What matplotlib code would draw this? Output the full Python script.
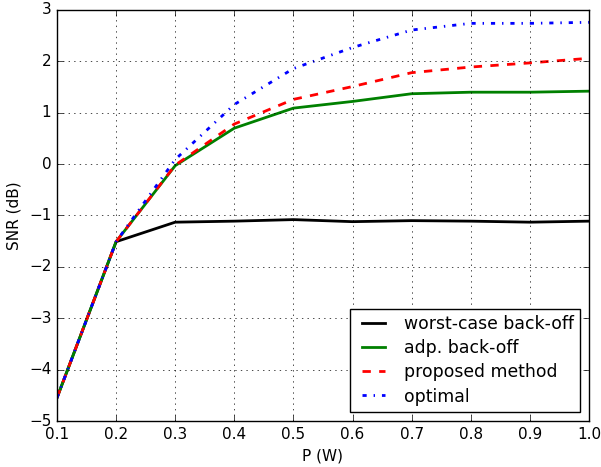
import matplotlib
matplotlib.use("Agg")
import matplotlib.pyplot as plt

plt.style.use('classic')

P = [0.1, 0.2, 0.3, 0.4, 0.5, 0.6, 0.7, 0.8, 0.9, 1.0]
worst = [-4.55, -1.51, -1.13, -1.11, -1.08, -1.12, -1.10, -1.11, -1.13, -1.11]
adp = [-4.55, -1.51, -0.03, 0.70, 1.09, 1.22, 1.37, 1.40, 1.40, 1.42]
proposed = [-4.55, -1.51, -0.02, 0.78, 1.26, 1.51, 1.78, 1.89, 1.97, 2.06]
optimal = [-4.55, -1.51, 0.09, 1.16, 1.86, 2.27, 2.61, 2.74, 2.74, 2.76]

fig = plt.figure(figsize=(6.01, 4.67), dpi=100, facecolor='white')
ax = fig.add_axes([0.0948, 0.0985, 0.8852, 0.8801])
ax.plot(P, worst, color='black', linestyle='-', linewidth=2, label='worst-case back-off')
ax.plot(P, adp, color='green', linestyle='-', linewidth=2, label='adp. back-off')
ax.plot(P, proposed, color='red', linestyle='--', linewidth=2, label='proposed method')
ax.plot(P, optimal, color='blue', linestyle='-.', linewidth=2, label='optimal')
ax.set_xlim(0.1, 1.0)
ax.set_ylim(-5, 3)
ax.set_xticks([0.1, 0.2, 0.3, 0.4, 0.5, 0.6, 0.7, 0.8, 0.9, 1.0])
ax.set_yticks(range(-5, 4))
ax.grid(True)
ax.set_xlabel('P (W)', fontsize=11)
ax.set_ylabel('SNR (dB)', fontsize=11)
ax.tick_params(labelsize=11)
ax.legend(loc='lower right', fontsize=12.4, handlelength=1.9, labelspacing=0.35,
          borderaxespad=0.5)
fig.savefig('out.png', dpi=100, facecolor='white')
